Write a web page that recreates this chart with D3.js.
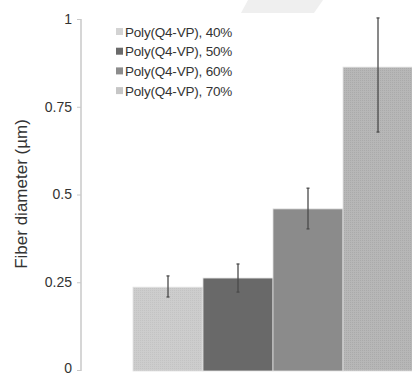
<!DOCTYPE html>
<html>
<head>
<meta charset="utf-8">
<script src="https://cdn.jsdelivr.net/npm/d3@7"></script>
<style>
  body { margin: 0; background: #fff; }
  svg { display: block; font-family: "Liberation Sans", Arial, sans-serif; }
</style>
</head>
<body>
<svg width="412" height="375"></svg>
<script>
// data
var categories = ['Poly(Q4-VP), 40%', 'Poly(Q4-VP), 50%', 'Poly(Q4-VP), 60%', 'Poly(Q4-VP), 70%'];
var means = [0.236, 0.262, 0.459, 0.863];
var errLow = [0.208, 0.222, 0.402, 0.678];
var errHigh = [0.268, 0.302, 0.518, 1.003];
var tickValues = [0, 0.25, 0.5, 0.75, 1];
var tickLabels = ['0', '0.25', '0.5', '0.75', '1'];
var barColors = ['#cbcbcb', '#696969', '#8b8b8b', '#b5b5b5'];

var svg = d3.select('svg');

// faint watermark shape at top
svg.append('path')
    .attr('d', 'M248,0 L323,0 L314,13 L241,13 Z')
    .style('fill', '#efefef');

var x = d3.scaleBand()
    .domain(categories)
    .range([133, 413])
    .padding(0);

var y = d3.scaleLinear()
    .domain([0, 1])
    .range([370, 19]);

//
// dotted textures for the lighter bars
//
var defs = svg.append('defs');
function dotPattern(id, bg, dot) {
  var p = defs.append('pattern')
      .attr('id', id)
      .attr('patternUnits', 'userSpaceOnUse')
      .attr('width', 2).attr('height', 2);
  p.append('rect').attr('width', 2).attr('height', 2).style('fill', bg);
  p.append('rect').attr('width', 1).attr('height', 1).style('fill', dot);
}
dotPattern('tex0', '#cdcdcd', '#c3c3c3');
dotPattern('tex3', '#b7b7b7', '#aaaaaa');
var fills = ['url(#tex0)', barColors[1], barColors[2], 'url(#tex3)'];

// y axis
var yAxis = d3.axisLeft(y)
    .tickValues(tickValues)
    .tickFormat(function(d, i) { return tickLabels[i]; })
    .tickSize(4)
    .tickPadding(5);

var axisG = svg.append('g')
    .attr('transform', 'translate(81,0)')
    .call(yAxis);
axisG.select('.domain').attr('d', 'M0,' + y(1) + 'V' + (y(0) + 1)).style('stroke', '#c8c8c8').style('stroke-width', 1.5);
axisG.selectAll('.tick line').style('stroke', '#c8c8c8');
axisG.selectAll('.tick text')
    .style('font-size', '14px')
    .style('fill', '#333')
    .attr('dy', function(d) { return d === 0 ? '0.2em' : '0.32em'; });

svg.append('text')
    .attr('transform', 'translate(27,' + 194 + ') rotate(-90)')
    .attr('text-anchor', 'middle')
    .style('font-size', '17px')
    .style('fill', '#333')
    .text('Fiber diameter (\u00b5m)');

// bars
svg.selectAll('.bar')
    .data(categories)
  .enter().append('rect')
    .attr('class', 'bar')
    .attr('x', function(d) { return x(d); })
    .attr('width', x.bandwidth())
    .attr('y', function(d, i) { return y(means[i]); })
    .attr('height', function(d, i) { return y(0) - y(means[i]) + 1; })
    .style('fill', function(d, i) { return fills[i]; })
    .style('stroke', '#e2e2e2')
    .style('stroke-width', 0.8);

// error bars
var err = svg.selectAll('.err')
    .data(categories)
  .enter().append('g')
    .attr('class', 'err')
    .style('stroke', '#4a4a4a');
err.append('line')
    .attr('x1', function(d) { return x(d) + x.bandwidth() / 2; })
    .attr('x2', function(d) { return x(d) + x.bandwidth() / 2; })
    .attr('y1', function(d, i) { return y(errHigh[i]); })
    .attr('y2', function(d, i) { return y(errLow[i]); })
    .style('stroke-width', 1.3);
[errHigh, errLow].forEach(function(vals) {
  err.append('line')
      .attr('x1', function(d) { return x(d) + x.bandwidth() / 2 - 1.5; })
      .attr('x2', function(d) { return x(d) + x.bandwidth() / 2 + 1.5; })
      .attr('y1', function(d, i) { return y(vals[i]); })
      .attr('y2', function(d, i) { return y(vals[i]); })
      .style('stroke-width', 1.3);
});

// legend
var legendColors = ['#d3d3d3', '#6a6a6a', '#8c8c8c', '#c6c6c6'];
var legend = svg.selectAll('.legend')
    .data(categories)
  .enter().append('g')
    .attr('class', 'legend')
    .attr('transform', function(d, i) { return 'translate(116,' + (32 + i * 19.7) + ')'; });
legend.append('rect')
    .attr('x', 0).attr('y', -4)
    .attr('width', 7).attr('height', 7)
    .style('fill', function(d, i) { return legendColors[i]; });
legend.append('text')
    .attr('x', 9)
    .attr('dy', '0.35em')
    .style('font-size', '13.5px')
    .style('letter-spacing', '-0.2px')
    .style('fill', '#333')
    .text(function(d) { return d; });
</script>
</body>
</html>
